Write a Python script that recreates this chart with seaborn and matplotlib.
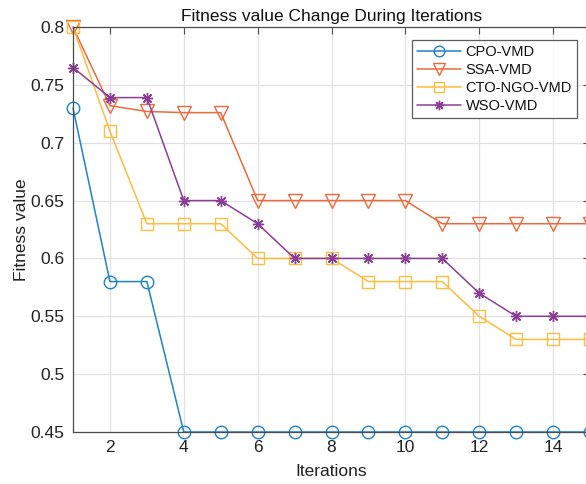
import matplotlib
matplotlib.use("Agg")
import matplotlib.pyplot as plt
import seaborn as sns
import pandas as pd

iterations = list(range(1, 16))
cpo_vmd = [0.730, 0.580, 0.580, 0.450, 0.450, 0.450, 0.450, 0.450, 0.450, 0.450, 0.450, 0.450, 0.450, 0.450, 0.450]
ssa_vmd = [0.800, 0.732, 0.727, 0.726, 0.726, 0.650, 0.650, 0.650, 0.650, 0.650, 0.630, 0.630, 0.630, 0.630, 0.630]
cto_ngo_vmd = [0.800, 0.710, 0.630, 0.630, 0.630, 0.600, 0.600, 0.600, 0.580, 0.580, 0.580, 0.550, 0.530, 0.530, 0.530]
wso_vmd = [0.765, 0.739, 0.739, 0.650, 0.650, 0.630, 0.600, 0.600, 0.600, 0.600, 0.600, 0.570, 0.550, 0.550, 0.550]
series_names = ["CPO-VMD", "SSA-VMD", "CTO-NGO-VMD", "WSO-VMD"]
y_ticks = [0.45, 0.5, 0.55, 0.6, 0.65, 0.7, 0.75, 0.8]
y_tick_labels = ["0.45", "0.5", "0.55", "0.6", "0.65", "0.7", "0.75", "0.8"]
x_ticks = [2, 4, 6, 8, 10, 12, 14]

sns.set_style("white")
plt.rcParams["font.family"] = ["Liberation Sans", "DejaVu Sans"]

fig = plt.figure(figsize=(5.86, 4.84), dpi=100)
ax = fig.add_axes([73 / 586, 52 / 484, (590 - 73) / 586, (432 - 27) / 484])

colors = ["#1c84cc", "#ec6a3c", "#fdbd3e", "#8c3d96"]
markers = ["o", "v", "s", (8, 2, 0)]
msizes = [9, 9.5, 8, 8]
all_values = [cpo_vmd, ssa_vmd, cto_ngo_vmd, wso_vmd]

for name, vals, c, m, ms in zip(series_names, all_values, colors, markers, msizes):
    df = pd.DataFrame({"Iterations": iterations, "Fitness value": vals})
    sns.lineplot(data=df, x="Iterations", y="Fitness value", ax=ax, color=c,
                 marker=m, markersize=ms, markerfacecolor="none",
                 markeredgecolor=c, markeredgewidth=1.0, linewidth=1.1,
                 label=name, clip_on=False)

ax.set_xlim(1, 15)
ax.set_ylim(0.45, 0.8)
ax.set_xticks(x_ticks)
ax.set_yticks(y_ticks)
ax.set_yticklabels(y_tick_labels)
ax.grid(True, color="#e1e1e1", linewidth=0.9)
ax.set_axisbelow(True)
for s in ax.spines.values():
    s.set_color("#4d4d4d")
    s.set_linewidth(0.9)
ax.tick_params(axis="both", direction="in", length=5, width=0.8, color="#4d4d4d",
               labelsize=12.5, labelcolor="#222222", pad=6, top=True, right=True)

ax.set_title("Fitness value Change During Iterations", fontsize=12.5, color="#111111", pad=4)
ax.set_xlabel("Iterations", fontsize=12.5, color="#222222", labelpad=6)
ax.set_ylabel("Fitness value", fontsize=12.5, color="#222222", labelpad=1)

leg = ax.legend(loc="upper right", bbox_to_anchor=((577 - 73) / (590 - 73), (432 - 40) / (432 - 27)),
                fontsize=10.5, frameon=True, fancybox=False, borderpad=0.35,
                labelspacing=0.28, handlelength=3.0, handletextpad=0.3, borderaxespad=0,
                markerscale=0.85)
leg.get_frame().set_edgecolor("#333333")
leg.get_frame().set_linewidth(0.9)
for t in leg.get_texts():
    t.set_color("#111111")

fig.savefig("out.png", dpi=100)
